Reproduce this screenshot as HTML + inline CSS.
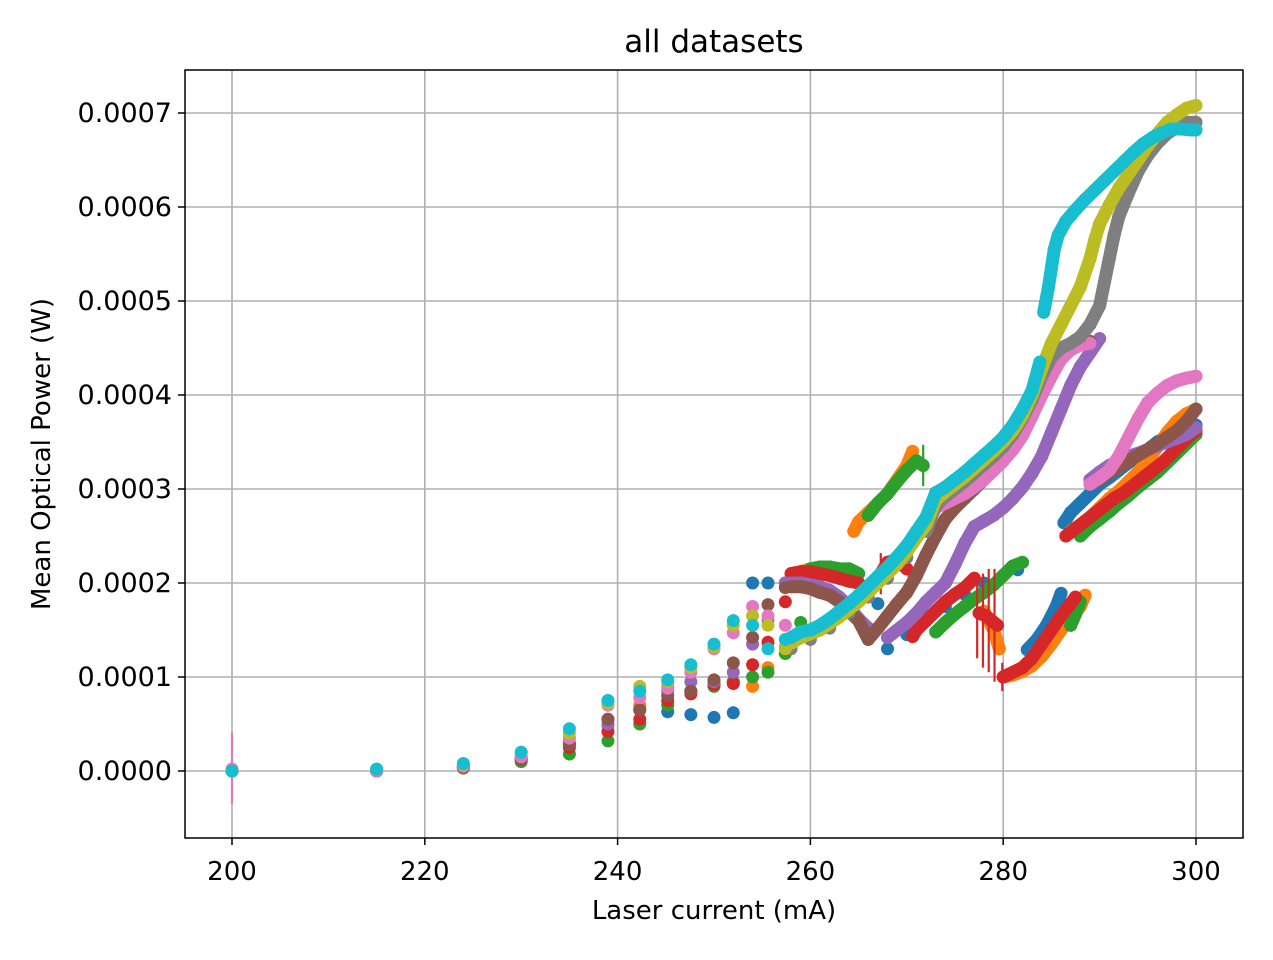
<!DOCTYPE html>
<html><head><meta charset="utf-8"><style>
body{margin:0;background:#fff}
svg text{font-family:"DejaVu Sans","Liberation Sans",sans-serif;fill:#000}
</style></head><body>
<svg id="chart" width="1273" height="955" viewBox="0 0 1273 955" xmlns="http://www.w3.org/2000/svg">
<rect width="1273" height="955" fill="#fff"/>
<g id="grid"></g>
<g id="marks"></g>
<rect x="185" y="70" width="1058" height="768" fill="none" stroke="#000" stroke-width="1.5"/>
<g id="ticks"></g>
<text x="714" y="52" font-size="31" text-anchor="middle">all datasets</text>
<text x="714" y="919" font-size="26" text-anchor="middle">Laser current (mA)</text>
<text x="0" y="0" font-size="26" text-anchor="middle" transform="translate(50,454) rotate(-90)">Mean Optical Power (W)</text>
</svg>
<script>
// y values in units of 1e-4 W
const xTicks=[200,220,240,260,280,300];
const yTicks=[0,1,2,3,4,5,6,7];
const yTickLabels=["0.0000","0.0001","0.0002","0.0003","0.0004","0.0005","0.0006","0.0007"];
const lowX=[200,215,224,230,235,239,242.3,245.2,247.6,250,252,254,255.6,257.4];
const blueX=[...lowX,267,268,270,272,274,276,278,280,281.5,282.5,283.5,284.5,285.5,286,286.3,287,288,289,290,291,292,293,294,295,296,297,298,299,300];
const blueY=[0,0,0.05,0.15,0.3,0.55,0.65,0.63,0.6,0.57,0.62,2.0,2.0,2.0,1.78,1.3,1.45,1.6,1.75,1.88,2.0,2.08,2.14,1.29,1.4,1.55,1.75,1.89,2.64,2.75,2.85,2.95,3.05,3.12,3.2,3.28,3.35,3.42,3.5,3.56,3.62,3.66,3.68];
const orangeX=[...lowX,258,259,260,261,262,263,264,264.5,265,266,267,268,269,270,270.6,278,279,279.6,280,281,282,283,284,285,286,287,288,288.5,287,288,289,290,291,292,293,294,295,296,297,298,299,300];
const orangeY=[0,0,0.04,0.12,0.3,0.48,0.7,0.9,0.85,0.92,0.95,0.9,1.1,1.32,2.1,2.12,2.15,2.17,2.15,2.12,2.1,2.55,2.65,2.75,2.85,2.95,3.1,3.25,3.4,1.7,1.5,1.3,1.0,1.02,1.06,1.12,1.22,1.35,1.5,1.62,1.75,1.87,2.55,2.62,2.7,2.8,2.9,2.98,3.08,3.18,3.3,3.45,3.6,3.72,3.8,3.85];
const greenX=[...lowX,259,260,261,262,263,264,265,266,267,268,269,270,271,271.7,273,274,275,276,277,278,279,280,281,282,287,287.5,288,288,289,290,291,292,293,294,295,296,297,298,299,300];
const greenY=[0,0,0.03,0.1,0.18,0.32,0.5,0.7,0.85,0.9,0.95,1.0,1.05,1.25,1.58,2.15,2.17,2.17,2.15,2.15,2.1,2.72,2.85,2.95,3.08,3.2,3.3,3.25,1.48,1.58,1.67,1.75,1.83,1.9,1.98,2.08,2.18,2.22,1.55,1.67,1.8,2.5,2.6,2.68,2.76,2.85,2.93,3.02,3.1,3.18,3.28,3.38,3.48,3.58];
const greenErrX=[271.7];const greenErrY=[3.25];const greenErr=[0.22];
const redX=[...lowX,258,259,260,261,262,263,264,265,267.3,268,269,270,270.6,271,272,273,274,275,276,277,277.5,278.2,278.8,279.4,280,281,282,283,284,285,286,287,287.5,286.5,287.5,288.5,289.5,290.5,291.5,292.5,293.5,294.5,295.5,296.5,297.5,298.5,299.5,300];
const redY=[0,0,0.04,0.13,0.25,0.42,0.55,0.75,0.82,0.92,0.93,1.13,1.37,1.8,2.1,2.12,2.12,2.1,2.08,2.05,2.02,2.0,2.1,2.22,2.25,2.15,1.43,1.5,1.6,1.7,1.8,1.88,1.95,2.05,1.68,1.65,1.6,1.55,1.0,1.05,1.1,1.2,1.35,1.5,1.65,1.78,1.85,2.5,2.58,2.66,2.74,2.82,2.9,2.96,3.04,3.12,3.2,3.28,3.38,3.48,3.58,3.62];
const redErrX=[267.3,270.2,277.3,277.9,278.5,279.1,279.9];const redErrY=[2.1,2.2,1.65,1.6,1.6,1.55,1.0];const redErr=[0.22,0.15,0.45,0.5,0.55,0.6,0.15];
const purpleX=[...lowX,258,259,260,261,262,263,264,265,266,268,269,270,271,272,273,274,275,276,277,278,279,280,281,282,283,284,285,286,287,288,289,290,289,290,291,292,293,294,295,296,297,298,299,300];
const purpleY=[0,0,0.04,0.12,0.28,0.5,0.65,0.85,0.95,0.95,1.05,1.35,1.6,2.0,2.0,2.0,1.98,1.96,1.92,1.85,1.75,1.62,1.52,1.42,1.5,1.58,1.68,1.8,1.9,2.0,2.2,2.42,2.6,2.66,2.72,2.8,2.9,3.02,3.17,3.35,3.6,3.85,4.1,4.3,4.45,4.6,3.1,3.18,3.25,3.3,3.35,3.38,3.42,3.46,3.5,3.54,3.58,3.65];
const brownX=[...lowX,258,259,260,261,262,263,264,265,266,267,268,269,270,271,272,273,274,275,276,277,278,279,280,281,282,283,284,285,286,287,288,289,289,290,291,292,293,294,295,296,297,298,299,300];
const brownY=[0,0,0.04,0.12,0.28,0.55,0.65,0.8,0.85,0.97,1.15,1.42,1.77,1.95,1.96,1.96,1.94,1.9,1.87,1.8,1.7,1.6,1.4,1.52,1.65,1.78,1.9,2.08,2.3,2.5,2.68,2.8,2.9,3.0,3.1,3.2,3.3,3.42,3.57,3.78,4.0,4.2,4.4,4.5,4.55,4.57,3.05,3.1,3.17,3.23,3.3,3.36,3.42,3.48,3.55,3.62,3.72,3.85];
const pinkX=[...lowX,273,274,275,276,277,278,279,280,281,282,283,284,285,286,287,288,289,289,290,291,292,293,294,295,296,297,298,299,300];
const pinkY=[0.02,0,0.05,0.15,0.35,0.7,0.78,0.88,1.05,1.3,1.47,1.75,1.65,1.55,2.8,2.85,2.9,2.95,3.02,3.1,3.2,3.3,3.42,3.57,3.78,4.0,4.2,4.38,4.48,4.53,4.55,3.05,3.12,3.2,3.35,3.55,3.75,3.92,4.02,4.1,4.15,4.18,4.2];
const pinkErrX=[200];const pinkErrY=[0.03];const pinkErr=[0.38];
const grayX=[258,260,262,264,266,268,270,272,273,274,275,276,277,278,279,280,281,282,283,284,285,286,287,288,289,290,290.5,291,291.5,292,293,294,295,296,297,298,299,300];
const grayY=[1.3,1.4,1.52,1.68,1.85,2.05,2.27,2.55,2.82,2.92,3.0,3.08,3.17,3.26,3.35,3.45,3.58,3.75,3.95,4.2,4.4,4.5,4.55,4.62,4.75,4.95,5.2,5.45,5.7,5.9,6.15,6.38,6.55,6.68,6.78,6.85,6.9,6.9];
const oliveX=[...lowX,258,259,260,261,262,263,264,265,266,267,268,269,270,271,272,273,274,275,276,277,278,279,280,281,282,283,284,285,286,287,288,289,289.5,290,291,292,293,294,295,296,297,298,299,300];
const oliveY=[0,0.02,0.07,0.2,0.4,0.72,0.9,0.95,1.1,1.32,1.55,1.65,1.55,1.3,1.36,1.42,1.46,1.5,1.57,1.64,1.72,1.8,1.9,2.0,2.1,2.2,2.33,2.48,2.62,2.88,2.97,3.05,3.13,3.22,3.31,3.4,3.5,3.62,3.78,4.0,4.28,4.55,4.75,4.95,5.15,5.45,5.65,5.82,6.02,6.2,6.35,6.5,6.65,6.78,6.9,6.98,7.05,7.08];
const cyanX=[...lowX,258,259,260,261,262,263,264,265,266,267,268,269,270,271,272,273,274,275,276,277,278,279,280,281,282,283,283.8,284.2,284.7,285,285.3,285.7,286.5,287.5,288.5,289.5,290.5,291.5,292.5,293.5,294.5,295.5,296.5,297.5,298.5,299.5,300];
const cyanY=[0,0.02,0.08,0.2,0.45,0.75,0.85,0.97,1.13,1.35,1.6,1.55,1.3,1.4,1.42,1.48,1.5,1.55,1.62,1.7,1.78,1.87,1.97,2.07,2.17,2.28,2.4,2.55,2.7,2.96,3.02,3.1,3.18,3.27,3.36,3.45,3.55,3.68,3.85,4.05,4.35,4.88,5.15,5.35,5.55,5.7,5.85,5.97,6.08,6.18,6.28,6.38,6.48,6.58,6.67,6.74,6.79,6.83,6.83,6.82,6.82];

const X=v=>232+(v-200)*9.64;
const Y=v=>771-v*94;
const NS="http://www.w3.org/2000/svg";
const grid=document.getElementById('grid'),ticks=document.getElementById('ticks'),marks=document.getElementById('marks');
function mk(tag,attrs,parent){const e=document.createElementNS(NS,tag);for(const k in attrs)e.setAttribute(k,attrs[k]);parent.appendChild(e);return e;}
xTicks.forEach(t=>{
  const g=mk('line',{x1:X(t),x2:X(t),y1:70,y2:838,stroke:'#b0b0b0','stroke-width':1.6},grid);
  
  
  const tk=mk('line',{x1:X(t),x2:X(t),y1:838,y2:845,stroke:'#000','stroke-width':1.5},ticks);
  
  
  const tx=mk('text',{x:X(t),y:880,'font-size':26,'text-anchor':'middle'},ticks);
  tx.textContent=t;
  
  
});
yTicks.forEach((t,i)=>{
  const g=mk('line',{x1:185,x2:1243,y1:Y(t),y2:Y(t),stroke:'#b0b0b0','stroke-width':1.6},grid);
  
  
  const tk=mk('line',{x1:178,x2:185,y1:Y(t),y2:Y(t),stroke:'#000','stroke-width':1.5},ticks);
  
  
  const tx=mk('text',{x:172,y:Y(t)+9,'font-size':27,'text-anchor':'end'},ticks);
  tx.textContent=yTickLabels[i];
  
  
});
const series=[
 ['blue',blueX,blueY,'#1f77b4',[],[],[]],
 ['orange',orangeX,orangeY,'#ff7f0e',[],[],[]],
 ['green',greenX,greenY,'#2ca02c',greenErrX,greenErrY,greenErr],
 ['red',redX,redY,'#d62728',redErrX,redErrY,redErr],
 ['purple',purpleX,purpleY,'#9467bd',[],[],[]],
 ['brown',brownX,brownY,'#8c564b',[],[],[]],
 ['pink',pinkX,pinkY,'#e377c2',pinkErrX,pinkErrY,pinkErr],
 ['gray',grayX,grayY,'#7f7f7f',[],[],[]],
 ['olive',oliveX,oliveY,'#bcbd22',[],[],[]],
 ['cyan',cyanX,cyanY,'#17becf',[],[],[]]
];
series.forEach(([name,xs,ys,col,ex,ey,ee])=>{
  const g=mk('g',{},marks);
  
  
  ex.forEach((x,i)=>{
    const l=mk('line',{x1:X(x),x2:X(x),y1:Y(ey[i]-ee[i]),y2:Y(ey[i]+ee[i]),stroke:col,'stroke-width':2.2},g);
    
    
  });
  // dense sweeps: closely spaced samples render as a continuous band of markers
  for(let i=1;i<xs.length;i++){
    const dx=xs[i]-xs[i-1],dy=Math.abs(ys[i]-ys[i-1]);
    if(dx>0&&dx<=1.1&&dy<0.3&&xs[i]>=258.5){
      const b=mk('line',{x1:X(xs[i-1]),y1:Y(ys[i-1]),x2:X(xs[i]),y2:Y(ys[i]),stroke:col,'stroke-width':13,'stroke-linecap':'round'},g);
      
      
    }
  }
  xs.forEach((x,i)=>{
    const c=mk('circle',{cx:X(x),cy:Y(ys[i]),r:6.5,fill:col},g);
    
    
  });
});
</script>
</body></html>
